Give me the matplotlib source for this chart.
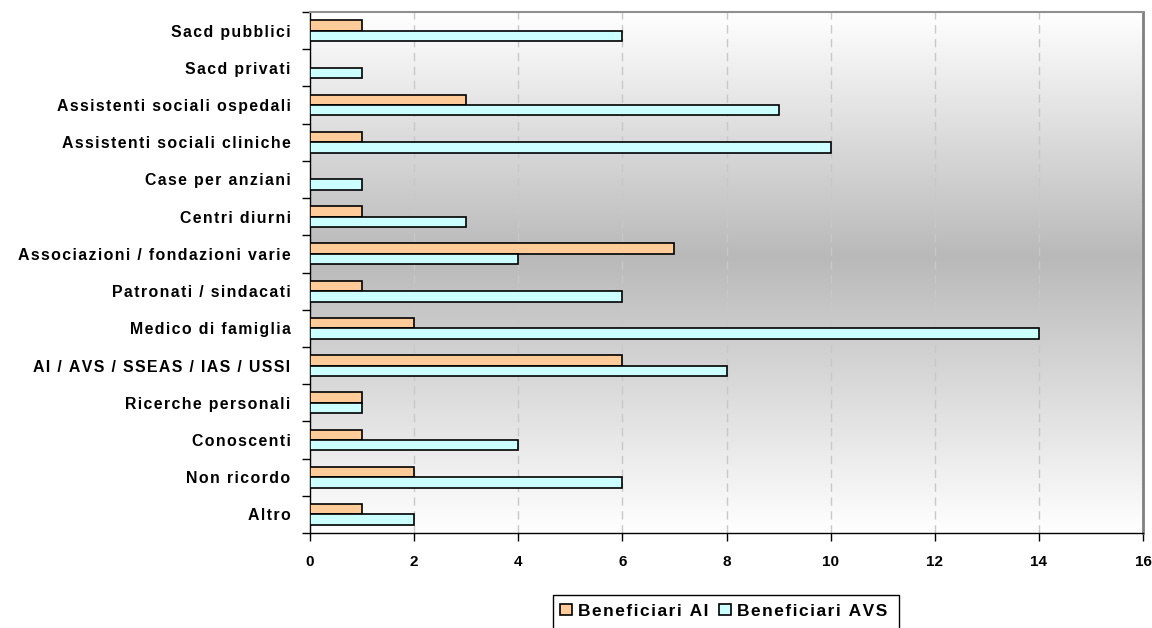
import numpy as np
import matplotlib
matplotlib.use("Agg")
import matplotlib.pyplot as plt
from matplotlib.colors import LinearSegmentedColormap
from matplotlib.patches import Rectangle, Patch

plt.rcParams['font.family'] = ['Liberation Sans', 'DejaVu Sans']

categories = [
    "Sacd pubblici",
    "Sacd privati",
    "Assistenti sociali ospedali",
    "Assistenti sociali cliniche",
    "Case per anziani",
    "Centri diurni",
    "Associazioni / fondazioni varie",
    "Patronati / sindacati",
    "Medico di famiglia",
    "AI / AVS / SSEAS / IAS / USSI",
    "Ricerche personali",
    "Conoscenti",
    "Non ricordo",
    "Altro",
]
beneficiari_ai = [1, 0, 3, 1, 0, 1, 7, 1, 2, 6, 1, 1, 2, 1]
beneficiari_avs = [6, 1, 9, 10, 1, 3, 4, 6, 14, 8, 1, 4, 6, 2]
x_ticks = [0, 2, 4, 6, 8, 10, 12, 14, 16]
series_names = ["Beneficiari AI", "Beneficiari AVS"]


def spaced(s):
    """Open up the letter spacing with hair spaces."""
    return "\u200a".join(s)


fig = plt.figure(figsize=(11.52, 6.28), dpi=100)
ax = fig.add_axes([310 / 1152, 1 - 533 / 628, 833 / 1152, 521 / 628])

n = len(categories)
ax.set_xlim(0, 16)
ax.set_ylim(n, 0)

# vertical grey gradient behind the bars
grad_cmap = LinearSegmentedColormap.from_list(
    "bg", [(0.0, "#ffffff"), (0.47, "#b9b9b9"), (1.0, "#ffffff")])
grad = np.linspace(0, 1, 256).reshape(-1, 1)
ax.imshow(grad, cmap=grad_cmap, aspect="auto", extent=(0, 16, n, 0),
          zorder=0, interpolation="bilinear")

for xv in x_ticks[1:-1]:
    ax.axvline(xv, color="#c8c8c8", lw=1.0, ls=(0, (6, 4)), zorder=1)

centers = np.arange(n) + 0.5
bh = 0.28
c_ai = "#ffcc99"
c_avs = "#ccffff"
for i in range(n):
    if beneficiari_ai[i] > 0:
        ax.barh(centers[i] - bh / 2, beneficiari_ai[i], height=bh, color=c_ai,
                edgecolor="black", lw=1.2, zorder=3)
    ax.barh(centers[i] + bh / 2, beneficiari_avs[i], height=bh, color=c_avs,
            edgecolor="black", lw=1.2, zorder=3)

# category labels centered; ticks on the category boundaries
ax.set_yticks(np.arange(n + 1))
ax.set_yticklabels([])
ax.set_yticks(centers, minor=True)
ax.set_yticklabels([spaced(c) for c in categories], minor=True,
                   fontsize=11.4, fontweight="bold")
ax.tick_params(axis="y", which="minor", length=0, pad=14)
ax.tick_params(axis="y", which="major", length=6, width=1, direction="out")

ax.set_xticks(x_ticks)
ax.set_xticklabels([str(v) for v in x_ticks], fontsize=11, fontweight="bold")
ax.tick_params(axis="x", length=6, width=1, direction="out", pad=10)

for side in ("left", "bottom"):
    ax.spines[side].set_color("black")
    ax.spines[side].set_linewidth(1.0)
ax.spines["top"].set_color("#909090")
ax.spines["top"].set_linewidth(1.5)
ax.spines["right"].set_color("#808080")
ax.spines["right"].set_linewidth(2.0)

# legend, its frame running past the bottom edge
fig.patches.append(Rectangle((553 / 1152, 1 - 660 / 628), 346 / 1152, 65 / 628,
                             transform=fig.transFigure, facecolor="white",
                             edgecolor="black", lw=1.0, zorder=0))
handles = [Patch(facecolor=c_ai, edgecolor="black", lw=1.2, label=spaced(series_names[0])),
           Patch(facecolor=c_avs, edgecolor="black", lw=1.2, label=spaced(series_names[1]))]
fig.legend(handles=handles, loc="center", ncol=2, frameon=False,
           bbox_to_anchor=(724 / 1152, 1 - 611 / 628),
           prop={"weight": "bold", "size": 12.5}, handlelength=0.65,
           handleheight=0.65, handletextpad=0.4, columnspacing=0.6)

fig.savefig("out.png", dpi=100)
